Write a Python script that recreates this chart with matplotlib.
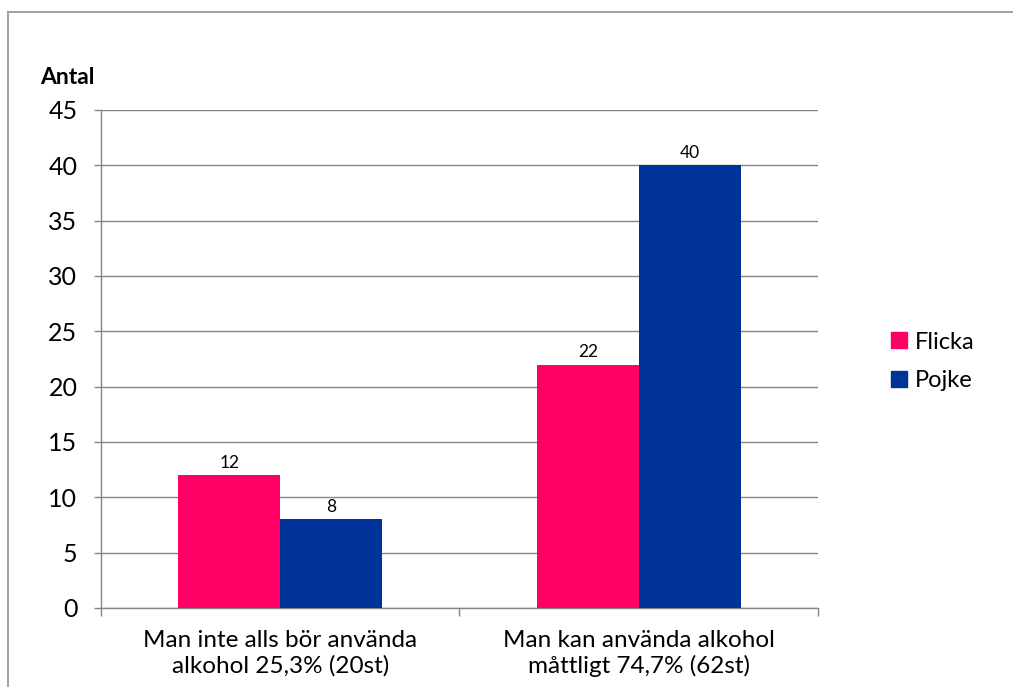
import matplotlib
matplotlib.use("Agg")
import matplotlib.pyplot as plt
from matplotlib.lines import Line2D
from matplotlib.patches import Patch

categories = ["Man inte alls bör använda\nalkohol 25,3% (20st)",
              "Man kan använda alkohol\nmåttligt 74,7% (62st)"]
series = ["Flicka", "Pojke"]
flicka = [12, 22]
pojke = [8, 40]
colors = ["#FF0066", "#003399"]
yticks = [0, 5, 10, 15, 20, 25, 30, 35, 40, 45]

plt.rcParams["font.family"] = ["Lato", "DejaVu Sans"]

fig = plt.figure(figsize=(10.13, 6.87), dpi=100)
ax = fig.add_axes([0.0997, 0.115, 0.7078, 0.7249])

# chart border (top and left edges visible in the reference)
grey = "#9a9a9a"
fig.add_artist(Line2D([8 / 1013, 1.0], [1 - 12 / 687] * 2, color=grey, lw=1.3, transform=fig.transFigure))
fig.add_artist(Line2D([8 / 1013] * 2, [0, 1 - 12 / 687], color=grey, lw=1.3, transform=fig.transFigure))

w = 0.284
x = range(len(categories))
b1 = ax.bar([i - w / 2 for i in x], flicka, width=w, color=colors[0], zorder=3)
b2 = ax.bar([i + w / 2 for i in x], pojke, width=w, color=colors[1], zorder=3)
for bars, vals in [(b1, flicka), (b2, pojke)]:
    for b, v in zip(bars, vals):
        ax.annotate(str(v), (b.get_x() + b.get_width() / 2, v), xytext=(0, 3),
                    textcoords="offset points", ha="center", va="bottom", fontsize=12.5)

ax.set_xlim(-0.5, 1.5)
ax.set_ylim(0, 45)
ax.set_yticks(yticks)
ax.tick_params(axis="y", labelsize=18, length=5, width=1, color="#868686", pad=12)
ax.set_xticks([-0.5, 0.5, 1.5], minor=False)
ax.set_xticklabels([])
ax.set_xticks([0, 1], minor=True)
ax.set_xticklabels(categories, minor=True, fontsize=17.5, linespacing=1.2)
ax.tick_params(axis="x", which="major", length=6, width=1, color="#868686")
ax.tick_params(axis="x", which="minor", length=0, pad=16)
ax.grid(axis="y", color="#868686", lw=1, zorder=0)
for s in ["top", "right"]:
    ax.spines[s].set_visible(False)
for s in ["left", "bottom"]:
    ax.spines[s].set_color("#868686")
    ax.spines[s].set_linewidth(1)

fig.text(40 / 1013, 1 - 78 / 687, "Antal", fontsize=16.5, fontweight="bold", va="center", ha="left")

handles = [Patch(color=c, label=s) for c, s in zip(colors, series)]
fig.legend(handles=handles, loc="center left", bbox_to_anchor=(0.859, 0.474), frameon=False,
           fontsize=17, handlelength=0.65, handleheight=0.65, handletextpad=0.35, labelspacing=0.75)

fig.savefig("out.png", dpi=100)
